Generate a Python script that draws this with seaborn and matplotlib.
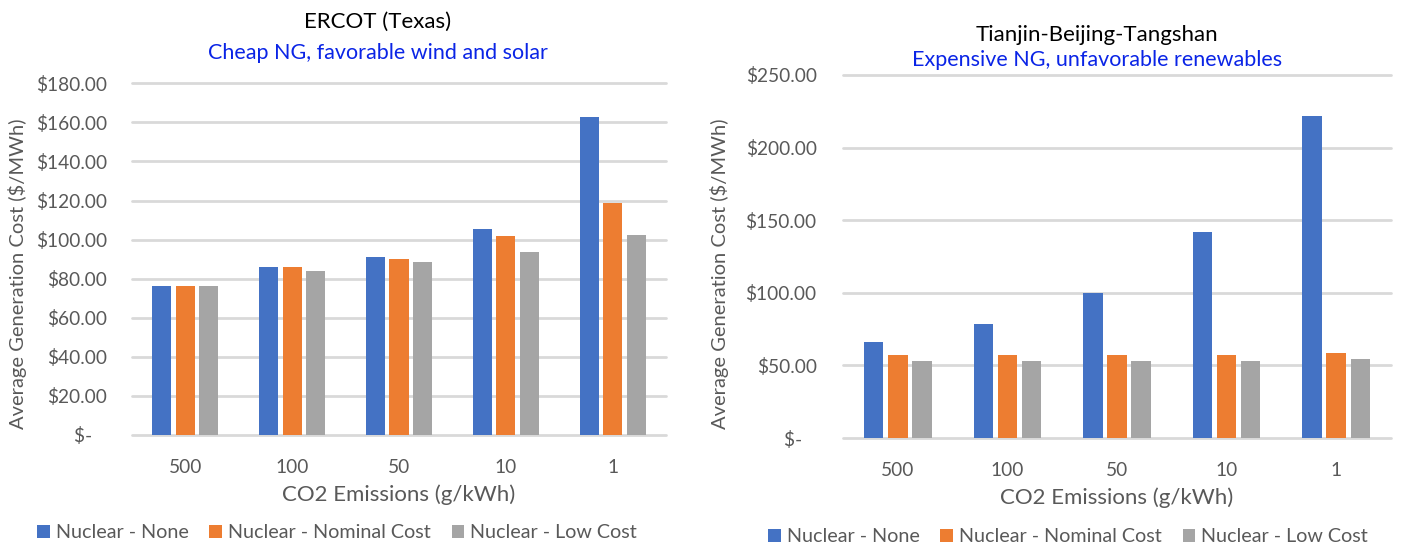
import matplotlib
matplotlib.use("Agg")
import matplotlib.pyplot as plt
from matplotlib.ticker import FuncFormatter, MultipleLocator
from matplotlib.patches import Patch
import pandas as pd
import seaborn as sns

# Emission caps (g CO2 / kWh) shown left to right
emission_caps = ["500", "100", "50", "10", "1"]
scenarios = ["Nuclear - None", "Nuclear - Nominal Cost", "Nuclear - Low Cost"]
colors = ["#4472C4", "#ED7D31", "#A5A5A5"]

# ERCOT (Texas) average generation cost, $/MWh
ercot_none = [76.5, 86.0, 91.0, 105.6, 163.0]
ercot_nominal = [76.5, 86.0, 90.3, 102.0, 118.8]
ercot_low = [76.5, 84.0, 88.6, 93.5, 102.6]

# Tianjin-Beijing-Tangshan average generation cost, $/MWh
tbt_none = [65.8, 78.2, 99.6, 141.8, 221.7]
tbt_nominal = [57.3, 57.4, 56.9, 57.0, 58.2]
tbt_low = [53.0, 53.0, 53.0, 53.0, 54.7]

TEXT_GRAY = "#595959"
GRID_GRAY = "#D9D9D9"
TITLE_BLUE = "#0A24E6"


def long_table(series):
    rows = []
    for name, vals in zip(scenarios, series):
        for cap, v in zip(emission_caps, vals):
            rows.append({"cap": cap, "scenario": name, "cost": v})
    return pd.DataFrame(rows)


def money(v, _pos):
    if abs(v) < 1e-9:
        return "$-   "
    return f"${v:,.2f}"


sns.set_theme(style="white")
plt.rcParams["font.family"] = ["Lato", "DejaVu Sans"]

fig = plt.figure(figsize=(14.01, 5.48), dpi=100)

panels = [
    dict(pos=[132 / 1401, 1 - 435 / 548, 534 / 1401, (435 - 83.3) / 548],
         data=[ercot_none, ercot_nominal, ercot_low], ymax=180, step=20,
         title="ERCOT (Texas)", sub="Cheap NG, favorable wind and solar",
         tx=378, ty=22, sy=53, ylx=27, ypad=18, leg_x=337, leg_y=533),
    dict(pos=[843 / 1401, 1 - 438 / 548, 548 / 1401, (438 - 75) / 548],
         data=[tbt_none, tbt_nominal, tbt_low], ymax=250, step=50,
         title="Tianjin-Beijing-Tangshan", sub="Expensive NG, unfavorable renewables",
         tx=1097, ty=35, sy=60, ylx=729, ypad=19, leg_x=1068, leg_y=537),
]

for p in panels:
    ax = fig.add_axes(p["pos"])
    df = long_table(p["data"])
    sns.barplot(data=df, x="cap", y="cost", hue="scenario", order=emission_caps,
                hue_order=scenarios, palette=colors, width=0.66, gap=0.19,
                saturation=1, edgecolor="none", linewidth=0, ax=ax, legend=False)
    ax.set_ylim(0, p["ymax"])
    ax.yaxis.set_major_locator(MultipleLocator(p["step"]))
    ax.yaxis.set_major_formatter(FuncFormatter(money))
    ax.set_axisbelow(True)
    ax.yaxis.grid(True, color=GRID_GRAY, linewidth=2)
    for gl in ax.get_ygridlines():
        gl.set_clip_on(False)
    for s in ax.spines.values():
        s.set_visible(False)
    ax.tick_params(axis="both", length=0, labelsize=13.8, colors=TEXT_GRAY)
    ax.tick_params(axis="y", pad=p["ypad"])
    ax.tick_params(axis="x", pad=17)
    ax.set_xlabel("CO2 Emissions (g/kWh)", fontsize=16, color=TEXT_GRAY, labelpad=6)
    ax.set_ylabel("Average Generation Cost ($/MWh)", fontsize=14.5, color=TEXT_GRAY)
    ax.yaxis.set_label_coords(p["ylx"] / 1401, 0.5, transform=fig.transFigure)

    fig.text(p["tx"] / 1401, 1 - p["ty"] / 548, p["title"], ha="center", va="center",
             fontsize=16, color="#000000")
    fig.text(p["tx"] / 1401, 1 - p["sy"] / 548, p["sub"], ha="center", va="center",
             fontsize=15.5, color=TITLE_BLUE)

    handles = [Patch(facecolor=c, edgecolor="none") for c in colors]
    fig.legend(handles, scenarios, loc="center",
               bbox_to_anchor=(p["leg_x"] / 1401, 1 - p["leg_y"] / 548),
               ncol=3, frameon=False, fontsize=14.2, labelcolor=TEXT_GRAY,
               handlelength=0.65, handleheight=0.65, handletextpad=0.3,
               columnspacing=1.05)

fig.savefig("out.png", dpi=100)
